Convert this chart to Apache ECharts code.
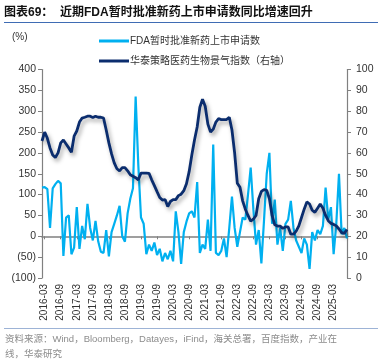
<!DOCTYPE html>
<html><head><meta charset="utf-8">
<script src="https://cdn.jsdelivr.net/npm/echarts@6/dist/echarts.min.js"></script>
<style>html,body{margin:0;padding:0;background:#fff}#c{width:382px;height:362px}</style>
</head><body><div id="c"></div>
<script>
// Monthly categories 2016-02 .. 2025-08
const startYear = 2016, startMonth = 2, monthCount = 115;
const categories = [];
for (let i = 0; i < monthCount; i++) {
  const m = startMonth - 1 + i;
  const y = startYear + Math.floor(m / 12);
  const mm = (m % 12) + 1;
  categories.push(y + '-' + (mm < 10 ? '0' + mm : mm));
}
// FDA tentative approvals YoY (%), left axis
const fdaYoY = [117,118,113,20,115,125,133,127,-47,45,50,-43,-27,70,-30,25,-7,78,20,-10,
  37,-12,-37,-40,15,-48,10,30,50,73,0,-13,55,90,115,335,170,45,30,-43,
  -20,-35,-15,-45,-30,-60,-40,-55,-35,-60,60,10,-66,10,35,55,60,45,130,-40,
  -20,-30,40,-35,220,-40,-45,-35,-5,-50,20,95,20,-25,10,45,40,100,165,65,
  -20,15,-65,40,150,200,30,88,-20,20,-35,30,40,85,20,-10,-25,-40,-5,-20,
  -78,10,-10,15,5,25,117,40,70,-43,30,150,5,20,-5];
// Huatai pharma & bio sentiment index, right axis
const sentiment = [65.7,70,67,62.4,59,57.8,60,64.8,66.2,64.3,62.4,60.3,68,70.5,74.8,76.7,77.1,77.6,77.6,77,
  77.6,77.1,77.1,76.7,71,64.8,59.5,55.2,52.4,51.4,52.9,52.9,51.4,49.5,48.8,48.1,47.1,50.3,50.3,50.3,
  50.2,47.1,44.3,41.4,38.6,37.4,37.6,34.3,36.7,37.6,37.6,39.5,40.2,41.9,45.2,51,59,66.2,72.4,81.9,
  85.7,82.4,73.8,70,71.4,74.8,76.4,76,76,76,77.1,71,60,45.5,43.5,37,33,30,27.3,28.2,
  30,38,41.5,42.4,42,38,30,25.5,24.9,24.9,23.8,24.5,24.5,21,21,22.5,25,29,33,36.5,
  35.5,32.5,31.5,33.5,35.5,33.5,30,27.5,26.2,25.7,25,23.5,21.8,21.4,23.3];
const seriesNames = ['FDA暂时批准新药上市申请数', '华泰策略医药生物景气指数（右轴）'];
const leftTicks = {min: -100, max: 400, interval: 50};
const rightTicks = {min: 0, max: 100, interval: 10};

const chart = echarts.init(document.getElementById('c'), null, {renderer: 'canvas'});
const font = '"Liberation Sans", Arial, "Noto Sans CJK SC", sans-serif';
const labelEvery = (idx) => (idx - 1) % 6 === 0;
chart.setOption({
  animation: false,
  backgroundColor: '#fff',
  textStyle: {fontFamily: font},
  grid: {left: 42, right: 35, top: 69.5, bottom: 84},
  graphic: [
    {type: 'text', left: 4, top: 7, style: {text: '图表69：  近期FDA暂时批准新药上市申请数同比增速回升', font: 'bold 12px ' + font, fill: '#111'}},
    {type: 'line', shape: {x1: 4, y1: 22.5, x2: 378, y2: 22.5}, style: {stroke: '#3F6CB4', lineWidth: 1}},
    {type: 'text', left: 12, top: 32, style: {text: '(%)', font: '10px ' + font, fill: '#333'}},
    {type: 'line', shape: {x1: 4, y1: 328.5, x2: 378, y2: 328.5}, style: {stroke: '#9DB3D6', lineWidth: 1}},
    {type: 'text', left: 5, top: 332, style: {text: '资料来源：Wind，Bloomberg，Datayes，iFind，海关总署，百度指数，产业在\n线，华泰研究', font: '9.5px ' + font, fill: '#8c8c8c', lineHeight: 15}}
  ],
  legend: {
    orient: 'vertical', left: 94, top: 31, itemGap: 10, itemWidth: 30, itemHeight: 3,
    icon: 'rect',
    textStyle: {fontSize: 10, color: '#333', fontFamily: font, padding: [0, 0, 0, -4]},
    data: seriesNames
  },
  xAxis: [
    {type: 'category', data: categories, boundaryGap: false, position: 'top',
     axisLine: {onZero: true, lineStyle: {color: '#808080', width: 1.5}},
     axisTick: {show: true, inside: true, interval: (i) => labelEvery(i), length: 3, lineStyle: {color: '#808080'}},
     axisLabel: {show: false},
     splitLine: {show: false}},
    {type: 'category', data: categories, boundaryGap: false, position: 'bottom',
     axisLine: {show: false, onZero: false},
     axisTick: {show: false},
     axisLabel: {interval: (i) => labelEvery(i), rotate: 90, margin: 6, fontSize: 10, color: '#333', fontFamily: font},
     splitLine: {show: false}}
  ],
  yAxis: [
    {type: 'value', min: leftTicks.min, max: leftTicks.max, interval: leftTicks.interval,
     axisLine: {show: true, lineStyle: {color: '#808080', width: 1.2}},
     axisTick: {show: true, length: 4, lineStyle: {color: '#808080'}},
     axisLabel: {fontSize: 10.5, color: '#333', margin: 6, formatter: v => v < 0 ? '(' + Math.abs(v) + ')' : String(v)},
     splitLine: {show: false}},
    {type: 'value', min: rightTicks.min, max: rightTicks.max, interval: rightTicks.interval, position: 'right',
     axisLine: {show: true, onZero: false, lineStyle: {color: '#808080', width: 1.2}},
     axisTick: {show: true, length: 4, lineStyle: {color: '#808080'}},
     axisLabel: {fontSize: 10.5, color: '#333', margin: 9},
     splitLine: {show: false}}
  ],
  series: [
    {name: seriesNames[0], type: 'line', data: fdaYoY, xAxisIndex: 0, yAxisIndex: 0, showSymbol: false, symbol: 'none',
     lineStyle: {color: '#00B0F0', width: 2.2}, itemStyle: {color: '#00B0F0'}, z: 2},
    {name: seriesNames[1], type: 'line', data: sentiment, xAxisIndex: 0, yAxisIndex: 1, showSymbol: false, symbol: 'none',
     lineStyle: {color: '#0B2D6E', width: 2.8, shadowColor: 'rgba(0,0,0,0.35)', shadowBlur: 4, shadowOffsetX: 2, shadowOffsetY: 3},
     itemStyle: {color: '#0B2D6E'}, z: 3}
  ]
});
</script></body></html>
